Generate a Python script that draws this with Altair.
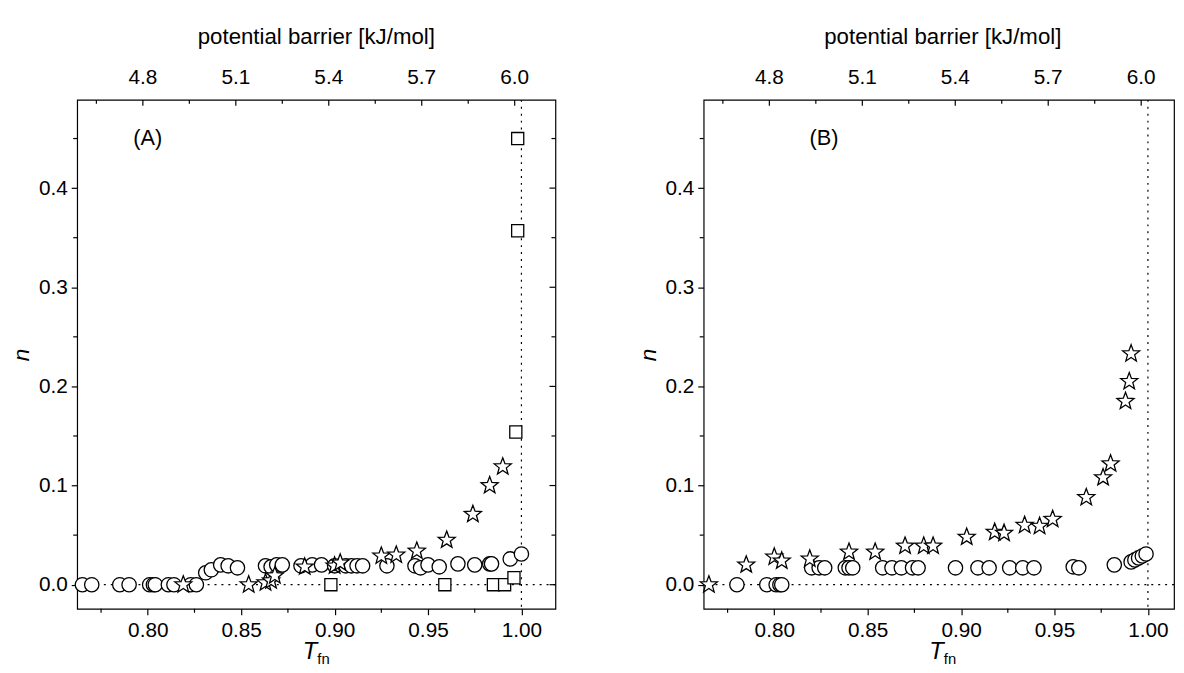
import altair as alt
import pandas as pd

# ---------------- data ----------------
# Panel A
a_circ_x = [0.765, 0.770, 0.785, 0.790, 0.801, 0.803, 0.804, 0.811, 0.814, 0.823, 0.826,
            0.831, 0.834, 0.839, 0.843, 0.848,
            0.863, 0.866, 0.869, 0.872, 0.882, 0.888, 0.893, 0.900, 0.906, 0.909, 0.912, 0.915,
            0.928, 0.943, 0.946, 0.950, 0.956, 0.966, 0.975, 0.983, 0.984, 0.994, 1.000]
a_circ_y = [0.0, 0.0, 0.0, 0.0, 0.0, 0.0, 0.0, 0.0, 0.0, 0.0, 0.0,
            0.012, 0.015, 0.020, 0.019, 0.017,
            0.019, 0.018, 0.020, 0.020, 0.019, 0.020, 0.020, 0.019, 0.019, 0.019, 0.019, 0.019,
            0.019, 0.019, 0.017, 0.020, 0.018, 0.021, 0.020, 0.021, 0.021, 0.026, 0.031]
a_star_x = [0.819, 0.854, 0.863, 0.866, 0.868, 0.884, 0.900, 0.903, 0.925, 0.933, 0.944,
            0.960, 0.974, 0.983, 0.990]
a_star_y = [0.0, 0.0, 0.002, 0.004, 0.009, 0.018, 0.019, 0.022, 0.029, 0.030, 0.034,
            0.045, 0.071, 0.100, 0.119]
a_sq_x = [0.898, 0.959, 0.985, 0.991, 0.996, 0.997, 0.998, 0.998]
a_sq_y = [0.0, 0.0, 0.0, 0.0, 0.007, 0.154, 0.357, 0.450]

# Panel B
b_circ_x = [0.780, 0.796, 0.801, 0.803, 0.804,
            0.820, 0.824, 0.827, 0.838, 0.840, 0.842, 0.858, 0.863, 0.868, 0.874, 0.877,
            0.897, 0.909, 0.915, 0.926, 0.933, 0.939, 0.960, 0.963,
            0.982, 0.991, 0.993, 0.995, 0.997, 0.999]
b_circ_y = [0.0, 0.0, 0.0, 0.0, 0.0,
            0.017, 0.017, 0.017, 0.017, 0.017, 0.017, 0.017, 0.017, 0.017, 0.017, 0.017,
            0.017, 0.017, 0.017, 0.017, 0.017, 0.017, 0.018, 0.017,
            0.020, 0.023, 0.025, 0.027, 0.029, 0.031]
b_star_x = [0.765, 0.785, 0.800, 0.804, 0.819, 0.840, 0.854, 0.870, 0.880, 0.885,
            0.903, 0.918, 0.923, 0.934, 0.942, 0.949, 0.967, 0.976, 0.980,
            0.988, 0.990, 0.991]
b_star_y = [0.0, 0.020, 0.028, 0.024, 0.026, 0.033, 0.033, 0.039, 0.039, 0.039,
            0.048, 0.053, 0.052, 0.060, 0.059, 0.066, 0.088, 0.108, 0.122,
            0.185, 0.205, 0.233]
b_sq_x = []
b_sq_y = []

# axes
x_major = [0.80, 0.85, 0.90, 0.95, 1.00]
x_minor = [0.775, 0.825, 0.875, 0.925, 0.975]
y_major = [0.0, 0.1, 0.2, 0.3, 0.4]
y_minor = [0.05, 0.15, 0.25, 0.35, 0.45]
top_major = [4.8, 5.1, 5.4, 5.7, 6.0]
top_minor = [4.65, 4.95, 5.25, 5.55, 5.85]

# five-pointed star outline (Vega has no built-in star symbol)
STAR = ("M0,-1L0.2469,-0.3398L0.9511,-0.309L0.3995,0.1298L0.5878,0.809L0,0.42"
        "L-0.5878,0.809L-0.3995,0.1298L-0.9511,-0.309L-0.2469,-0.3398Z")

PXU = 1890.6            # pixels per unit of T_fn
YDOM = [-0.0243, 0.489]
X0 = 0.7622
WA = 484                # panel A plot width
WB = 476                # panel B plot width (the original is cropped at the right)
H = 515
BDOM0 = 4.588
K = 1.5435 / (WA / PXU)  # kJ/mol per unit of T_fn


def b2t(b):
    # position of a potential-barrier tick on the T_fn scale
    return X0 + (b - BDOM0) / K


FONT = "Liberation Sans"
FS = 21
ys = alt.Scale(domain=YDOM, nice=False, zero=False)

X_AXIS = alt.Axis(values=x_major, format=".2f", tickSize=6, tickWidth=1.2,
                  tickColor="black", labelPadding=5, labelFont=FONT, labelFontSize=FS,
                  labelColor="black", labelFlush=False, labelOverlap=False,
                  grid=False, domain=False, title=None)
Y_AXIS = alt.Axis(values=y_major, format=".1f", tickSize=6, tickWidth=1.2,
                  tickColor="black", labelPadding=4, labelFont=FONT, labelFontSize=FS,
                  labelColor="black", labelFlush=False, labelOverlap=False,
                  grid=False, domain=False, title="n", titleFont=FONT,
                  titleFontSize=23, titleFontStyle="italic", titleFontWeight="normal",
                  titleColor="black", titlePadding=4, minExtent=40, maxExtent=40)


def panel(cx, cy, sx, sy, qx, qy, label, lx, ly, width):
    xdom = [X0, X0 + width / PXU]
    xs = alt.Scale(domain=xdom, nice=False, zero=False)

    def X():
        return alt.X("T:Q", scale=xs, axis=X_AXIS)

    def Y():
        return alt.Y("n:Q", scale=ys, axis=Y_AXIS)

    def pts(xv, yv, shape, size):
        df = pd.DataFrame({"T": xv, "n": yv})
        return alt.Chart(df).mark_point(shape=shape, filled=True, fill="white", stroke="black",
                                        strokeWidth=1.3, size=size, opacity=1).encode(
            x=X(), y=Y())

    def ticks_x(vals, edge, length, off):
        df = pd.DataFrame({"T": vals, "n": [edge] * len(vals)})
        return alt.Chart(df).mark_tick(orient="vertical", size=length, thickness=1.2,
                                       color="black", yOffset=off, opacity=1).encode(
            x=X(), y=Y())

    def ticks_y(vals, edge, length, off):
        df = pd.DataFrame({"T": [edge] * len(vals), "n": vals})
        return alt.Chart(df).mark_tick(orient="horizontal", size=length, thickness=1.2,
                                       color="black", xOffset=off, opacity=1).encode(
            x=X(), y=Y())

    tick_layers = [
        ticks_x(x_minor, YDOM[0], 4, 2),                       # bottom minor (outward)
        ticks_y(y_minor, xdom[0], 4, -2),                      # left minor (outward)
        ticks_x([b2t(b) for b in top_major], YDOM[1], 6, 3),   # top major (inward)
        ticks_x([b2t(b) for b in top_minor], YDOM[1], 4, 2),   # top minor (inward)
    ]
    if width >= WA:
        tick_layers += [
            ticks_y(y_major, xdom[1], 6, -3),                  # right major (inward)
            ticks_y(y_minor, xdom[1], 4, -2),                  # right minor (inward)
        ]

    top_lab = alt.Chart(pd.DataFrame({
        "T": [b2t(b) for b in top_major], "n": [YDOM[1]] * len(top_major),
        "t": [f"{b:.1f}" for b in top_major]})).mark_text(
        font=FONT, fontSize=FS, color="black", baseline="middle", dy=-22).encode(
        x=X(), y=Y(), text="t:N")
    top_title = alt.Chart(pd.DataFrame({
        "T": [X0 + WA / PXU / 2], "n": [YDOM[1]], "t": ["potential barrier [kJ/mol]"]})).mark_text(
        font=FONT, fontSize=22.5, color="black", baseline="middle", dy=-64).encode(
        x=X(), y=Y(), text="t:N")

    mid = X0 + WA / PXU / 2
    tt = alt.Chart(pd.DataFrame({"T": [mid], "n": [YDOM[0]], "t": ["T"]})).mark_text(
        font=FONT, fontSize=24, fontStyle="italic", color="black", align="right",
        baseline="alphabetic", dx=1, dy=51).encode(x=X(), y=Y(), text="t:N")
    tsub = alt.Chart(pd.DataFrame({"T": [mid], "n": [YDOM[0]], "t": ["fn"]})).mark_text(
        font=FONT, fontSize=15, color="black", align="left",
        baseline="alphabetic", dx=1, dy=56).encode(x=X(), y=Y(), text="t:N")

    hline = alt.Chart(pd.DataFrame({"n": [0.0]})).mark_rule(
        color="black", strokeWidth=1.2, strokeDash=[2, 5]).encode(y=Y())
    vline = alt.Chart(pd.DataFrame({"T": [1.0]})).mark_rule(
        color="black", strokeWidth=1.2, strokeDash=[2, 5]).encode(x=X())

    lab = alt.Chart(pd.DataFrame({"T": [lx], "n": [ly], "t": [label]})).mark_text(
        font=FONT, fontSize=22, color="black").encode(x=X(), y=Y(), text="t:N")

    layers = tick_layers + [hline, vline, top_lab, top_title, tt, tsub,
                            pts(cx, cy, "circle", 210), pts(sx, sy, STAR, 330)]
    if len(qx):
        layers.append(pts(qx, qy, "square", 150))
    layers.append(lab)
    return alt.layer(*layers).properties(width=width, height=H)


pa = panel(a_circ_x, a_circ_y, a_star_x, a_star_y, a_sq_x, a_sq_y, "(A)", 0.800, 0.450, WA)
pb = panel(b_circ_x, b_circ_y, b_star_x, b_star_y, b_sq_x, b_sq_y, "(B)", 0.8266, 0.450, WB)

chart = alt.hconcat(pa, pb, spacing=80).configure_view(
    stroke="black", strokeWidth=1.2).properties(
    padding={"left": 2, "top": 13, "right": 0, "bottom": 0}, background="white")

chart.save("out.html", embed_options={"renderer": "svg", "actions": False})
